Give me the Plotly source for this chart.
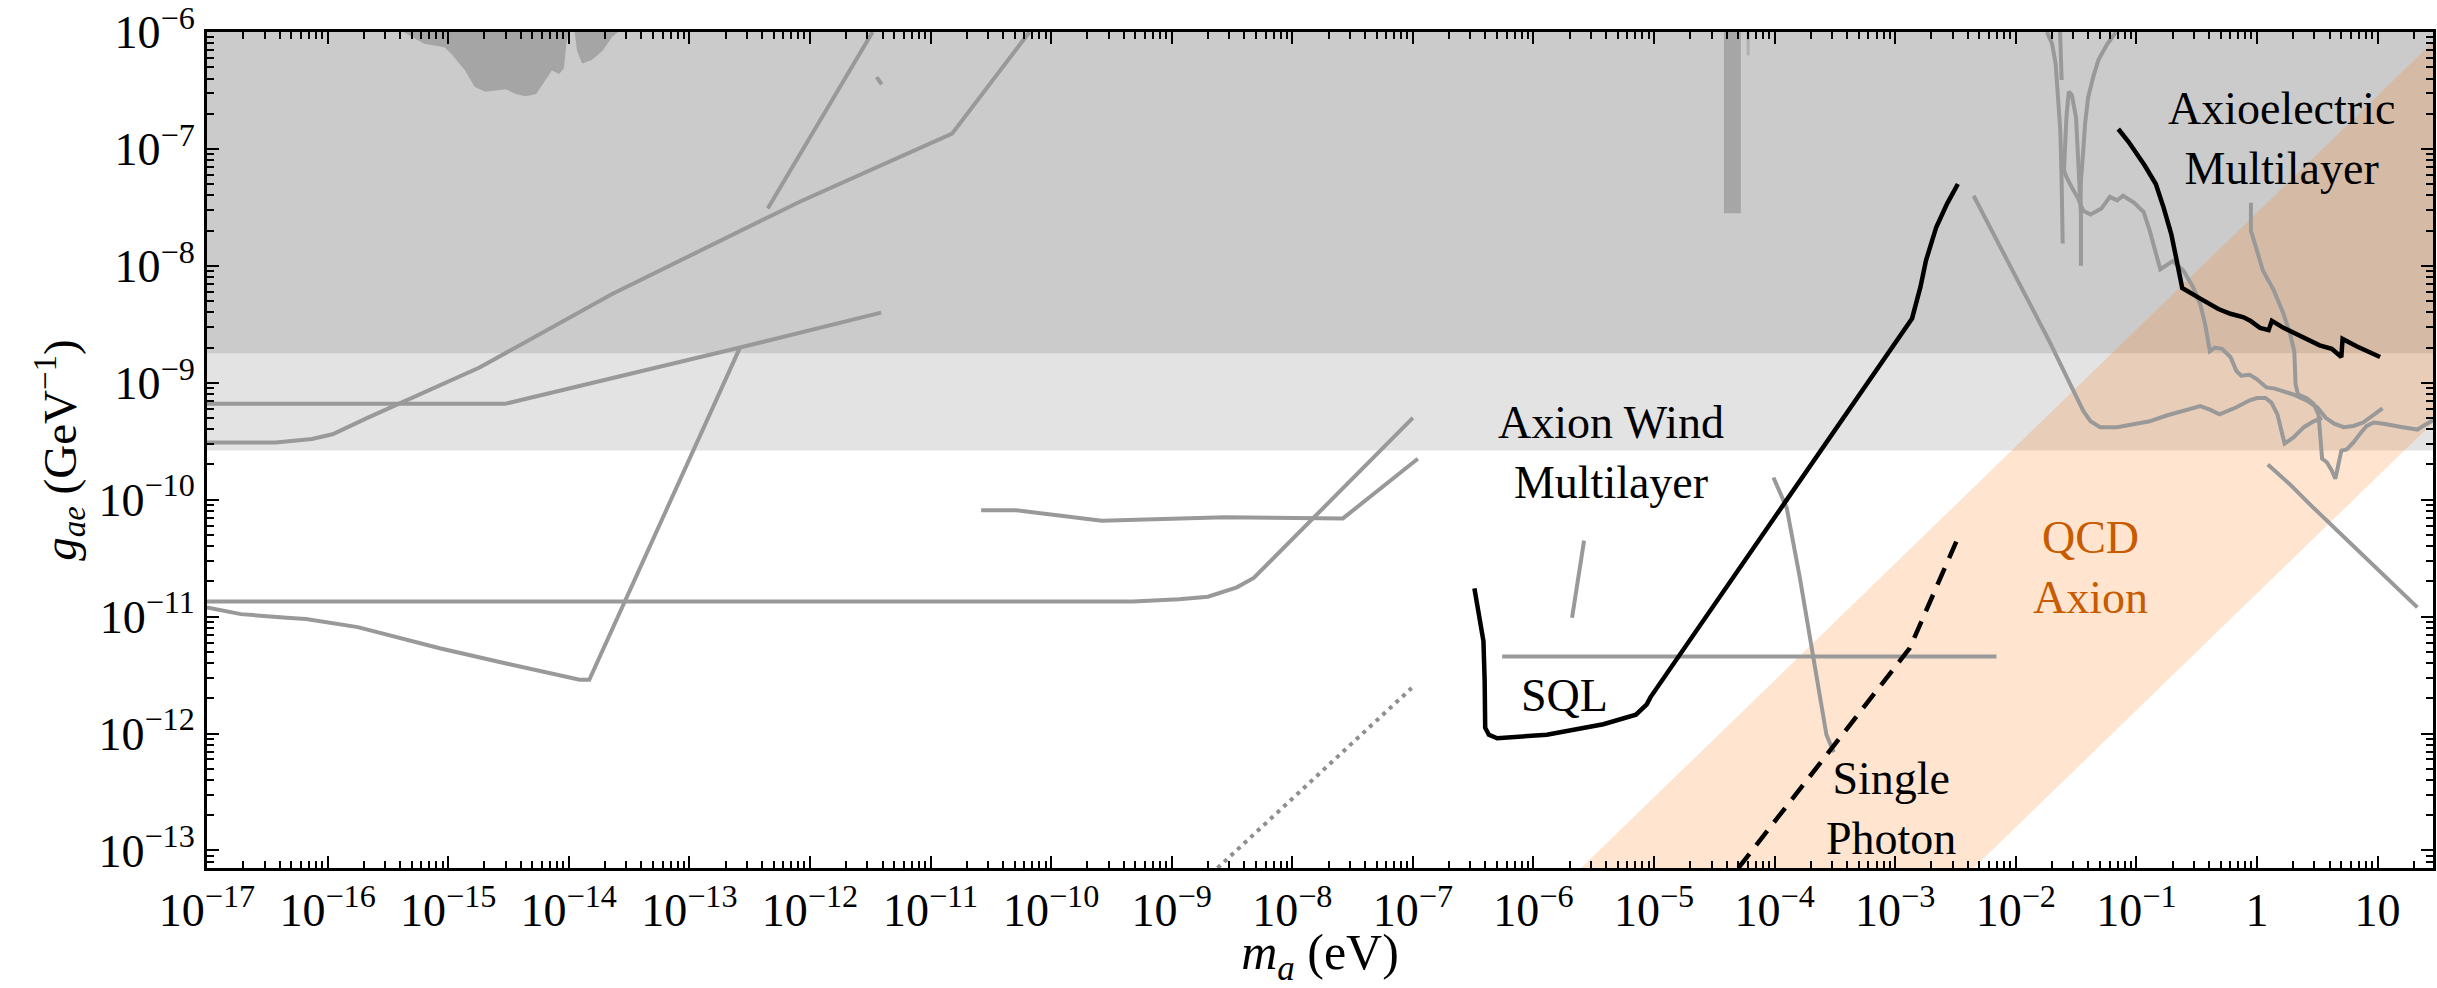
import math
import plotly.graph_objects as go

# ---------------- axes ----------------
x_tick_vals = [1e-17, 1e-16, 1e-15, 1e-14, 1e-13, 1e-12, 1e-11, 1e-10, 1e-9,
               1e-8, 1e-7, 1e-6, 1e-5, 1e-4, 1e-3, 1e-2, 1e-1, 1, 10]
x_tick_text = ["10<sup>−17</sup>", "10<sup>−16</sup>", "10<sup>−15</sup>", "10<sup>−14</sup>",
               "10<sup>−13</sup>", "10<sup>−12</sup>", "10<sup>−11</sup>", "10<sup>−10</sup>",
               "10<sup>−9</sup>", "10<sup>−8</sup>", "10<sup>−7</sup>", "10<sup>−6</sup>",
               "10<sup>−5</sup>", "10<sup>−4</sup>", "10<sup>−3</sup>", "10<sup>−2</sup>",
               "10<sup>−1</sup>", "1", "10"]
y_tick_vals = [1e-13, 1e-12, 1e-11, 1e-10, 1e-9, 1e-8, 1e-7, 1e-6]
y_tick_text = ["10<sup>−13</sup>", "10<sup>−12</sup>", "10<sup>−11</sup>", "10<sup>−10</sup>",
               "10<sup>−9</sup>", "10<sup>−8</sup>", "10<sup>−7</sup>", "10<sup>−6</sup>"]
x_range_log = [-17, 1.46]
y_range_log = [-13.15, -6]
x_title = "<i>m</i><sub><i>a</i></sub> (eV)"
y_title = "<i>g</i><sub><i>ae</i></sub> (GeV<sup>−1</sup>)"

# ---------------- shaded regions ----------------
band_x = [1e-18, 1e3, 1e3, 1e-18]
light_band_y = [2.63e-10, 2.63e-10, 1.78e-9, 1.78e-9]
dark_band_y = [1.78e-9, 1.78e-9, 1e-5, 1e-5]

blob1_m = [4.27e-16, 6.31e-16, 9.33e-16, 1.07e-15, 1.38e-15, 1.66e-15, 2.04e-15, 3.02e-15,
           3.63e-15, 4.37e-15, 5.37e-15, 6.46e-15, 7.24e-15, 8.32e-15, 9.12e-15, 9.55e-15, 1.0e-14]
blob1_g = [1e-6, 7.94e-7, 7.41e-7, 6.46e-7, 4.68e-7, 3.39e-7, 3.09e-7, 3.24e-7,
           2.95e-7, 2.82e-7, 2.95e-7, 3.89e-7, 4.68e-7, 4.37e-7, 4.90e-7, 7.94e-7, 1e-6]
blob2_m = [1.12e-14, 1.17e-14, 1.29e-14, 1.55e-14, 1.91e-14, 2.29e-14, 2.57e-14]
blob2_g = [1e-6, 6.92e-7, 5.37e-7, 5.75e-7, 6.92e-7, 9.12e-7, 1e-6]

bar_m = [3.80e-5, 5.25e-5, 5.25e-5, 3.80e-5]
bar_g = [2.82e-8, 2.82e-8, 1e-6, 1e-6]
thin_m = [6.03e-5, 6.03e-5]
thin_g = [1e-6, 6.31e-7]

qcd_m = [1e-7, 1e2]
qcd_upper = [2.85e-15, 2.85e-6]
qcd_lower = [1.58e-18, 1.58e-9]

# ---------------- grey limit curves ----------------
lineA_m = [1e-17, 2.95e-15, 2.63e-13, 8.32e-13, 2.51e-12, 3.89e-12]
lineA_g = [6.6e-10, 6.6e-10, 2.0e-9, 2.69e-9, 3.55e-9, 3.98e-9]

lineB_m = [1e-17, 3.72e-17, 7.41e-17, 1.10e-16, 2.14e-16, 1.82e-15, 2.29e-14, 2.63e-13,
           8.32e-13, 1.51e-11, 6.61e-11]
lineB_g = [3.09e-10, 3.09e-10, 3.31e-10, 3.63e-10, 5.01e-10, 1.35e-9, 5.75e-9, 2.0e-8,
           3.55e-8, 1.35e-7, 1e-6]

lineC_m = [4.47e-13, 3.31e-12]
lineC_g = [3.09e-8, 1e-6]

tick_seg_m = [3.57e-12, 3.94e-12]
tick_seg_g = [4.12e-7, 3.56e-7]

lineD_m = [1e-17, 1.91e-17, 4.57e-17, 6.61e-17, 1.78e-16, 8.51e-16, 3.31e-15, 1.23e-14,
           1.48e-14, 2.63e-13]
lineD_g = [1.20e-11, 1.05e-11, 9.77e-12, 9.55e-12, 8.13e-12, 5.37e-12, 3.89e-12, 2.88e-12,
           2.88e-12, 2.0e-9]

lineE_m = [1e-17, 4.79e-10, 1.15e-9, 2.0e-9, 3.47e-9, 4.79e-9, 1.0e-7]
lineE_g = [1.35e-11, 1.35e-11, 1.41e-11, 1.48e-11, 1.78e-11, 2.14e-11, 5.01e-10]

lineF_m = [2.63e-11, 5.13e-11, 2.63e-10, 2.75e-9, 2.63e-8, 1.10e-7]
lineF_g = [8.13e-11, 8.13e-11, 6.61e-11, 7.08e-11, 6.92e-11, 2.24e-10]

dotted_m = [2.40e-9, 9.77e-8]
dotted_g = [7.08e-14, 2.45e-12]

lineH_m = [2.63e-6, 2.34e-6, 2.09e-6]
lineH_g = [4.47e-11, 2.04e-11, 9.77e-12]

lineI_m = [5.50e-7, 6.92e-3]
lineI_g = [4.57e-12, 4.57e-12]

lineJ_m = [9.77e-5, 1.26e-4, 1.62e-4, 2.0e-4, 2.34e-4, 2.69e-4, 3.09e-4]
lineJ_g = [1.55e-10, 8.51e-11, 2.14e-11, 6.17e-12, 2.19e-12, 9.77e-13, 6.92e-13]

lineK_m = [4.47e-3, 1.91e-2, 2.82e-2, 3.63e-2, 4.17e-2, 5.01e-2, 6.92e-2, 0.1, 0.129, 0.178,
           0.245, 0.339, 0.407, 0.490, 0.676, 0.871, 1.0, 1.175, 1.318, 1.479, 1.622, 1.698,
           1.995, 2.455, 2.951, 3.467]
lineK_g = [3.98e-8, 2.24e-9, 9.77e-10, 5.75e-10, 4.68e-10, 4.17e-10, 4.17e-10, 4.47e-10,
           4.68e-10, 5.25e-10, 5.75e-10, 6.31e-10, 5.89e-10, 5.37e-10, 6.17e-10, 7.08e-10,
           7.41e-10, 7.41e-10, 6.76e-10, 5.37e-10, 3.63e-10, 3.02e-10, 3.39e-10, 4.17e-10,
           4.68e-10, 5.01e-10]

lineP_m = [1.81e-2, 2.0e-2, 2.14e-2, 2.24e-2, 2.34e-2, 2.40e-2, 2.45e-2]
lineP_g = [1e-6, 7.94e-7, 5.37e-7, 2.75e-7, 1.45e-7, 5.37e-8, 1.55e-8]
lineP2_m = [2.33e-2, 2.40e-2]
lineP2_g = [1e-6, 3.89e-7]

lineR_m = [2.51e-2, 2.63e-2, 2.75e-2, 2.92e-2, 3.16e-2, 3.31e-2, 3.47e-2, 3.47e-2]
lineR_g = [6.61e-8, 1.86e-7, 3.09e-7, 2.88e-7, 1.86e-7, 7.41e-8, 2.75e-8, 1.0e-8]

lineM_m = [6.76e-2, 5.69e-2, 4.84e-2, 4.37e-2, 3.98e-2, 3.76e-2, 3.63e-2, 3.47e-2, 3.44e-2]
lineM_g = [1e-6, 7.76e-7, 5.75e-7, 4.07e-7, 2.75e-7, 1.66e-7, 9.77e-8, 5.37e-8, 3.39e-8]

lineQ_m = [2.40e-2, 2.63e-2, 2.92e-2, 3.31e-2, 3.63e-2, 4.17e-2, 5.13e-2, 6.03e-2, 6.92e-2,
           7.76e-2, 9.55e-2, 0.115, 0.129, 0.158, 0.200, 0.245, 0.295, 0.339, 0.372, 0.407,
           0.447, 0.513, 0.603, 0.676, 0.741, 0.871, 1.0, 1.20, 1.41, 2.0, 2.57, 3.16, 3.72,
           4.37, 5.25, 6.31, 7.59, 9.33, 11.0]
lineQ_g = [7.41e-8, 5.75e-8, 4.68e-8, 3.72e-8, 2.95e-8, 2.75e-8, 3.09e-8, 3.89e-8, 3.63e-8,
           3.98e-8, 3.47e-8, 2.88e-8, 2.0e-8, 9.33e-9, 1.10e-8, 9.12e-9, 6.61e-9, 4.68e-9,
           3.16e-9, 1.86e-9, 2.0e-9, 1.95e-9, 1.66e-9, 1.26e-9, 1.15e-9, 1.17e-9, 1.07e-9,
           9.12e-10, 8.91e-10, 7.94e-10, 7.08e-10, 6.17e-10, 5.01e-10, 4.47e-10, 4.17e-10,
           4.27e-10, 4.57e-10, 5.37e-10, 6.03e-10]

lineN_m = [0.891, 0.891, 1.0, 1.12, 1.38, 1.66, 1.88, 2.04, 2.09, 2.19, 2.57, 2.95, 3.24, 3.31,
           3.47, 3.80, 4.17, 4.47, 4.79, 5.01, 5.56, 6.31, 7.24, 8.13, 9.33, 11.2, 16.2, 21.4,
           25.7, 30.2]
lineN_g = [3.47e-8, 2.0e-8, 1.35e-8, 9.12e-9, 6.17e-9, 3.89e-9, 2.63e-9, 1.86e-9, 9.77e-10,
           7.94e-10, 7.41e-10, 6.61e-10, 5.37e-10, 3.89e-10, 2.24e-10, 2.09e-10, 1.78e-10,
           1.51e-10, 2.14e-10, 2.63e-10, 2.69e-10, 3.09e-10, 3.72e-10, 4.27e-10, 4.57e-10,
           4.47e-10, 4.17e-10, 3.98e-10, 4.47e-10, 4.90e-10]

lineO_m = [1.23, 1.88, 2.75, 4.07, 21.4]
lineO_g = [2.0e-10, 1.35e-10, 9.12e-11, 6.17e-11, 1.20e-11]

# ---------------- projected sensitivities (black) ----------------
sql_m = [3.24e-7, 3.55e-7, 3.85e-7, 3.94e-7, 3.98e-7, 4.27e-7, 5.01e-7, 1.29e-6, 3.80e-6,
         7.08e-6, 8.71e-6, 9.33e-6, 1.38e-3, 1.62e-3, 1.80e-3, 2.19e-3, 2.69e-3, 3.31e-3]
sql_g = [1.74e-11, 1.05e-11, 6.17e-12, 2.82e-12, 1.12e-12, 9.77e-13, 9.12e-13, 9.77e-13,
         1.20e-12, 1.45e-12, 1.78e-12, 2.04e-12, 3.55e-9, 6.61e-9, 1.11e-8, 2.14e-8, 3.39e-8,
         5.01e-8]

axioel_m = [7.08e-2, 8.61e-2, 0.117, 0.145, 0.168, 0.195, 0.216, 0.240, 0.339, 0.479, 0.603,
            0.776, 0.879, 1.06, 1.25, 1.33, 1.66, 2.29, 3.31, 4.17, 5.01, 5.13, 6.76, 10.5]
axioel_g = [1.48e-7, 1.15e-7, 7.24e-8, 5.01e-8, 3.16e-8, 1.86e-8, 1.11e-8, 6.46e-9, 5.25e-9,
            4.27e-9, 3.89e-9, 3.63e-9, 3.39e-9, 2.95e-9, 2.82e-9, 3.39e-9, 2.95e-9, 2.51e-9,
            2.09e-9, 1.95e-9, 1.66e-9, 2.37e-9, 2.04e-9, 1.66e-9]

single_photon_m = [5.01e-5, 1.32e-3, 3.24e-3]
single_photon_g = [7.08e-14, 5.37e-12, 4.47e-11]

# ---------------- labels ----------------
labels = [
    ("Axion Wind<br>Multilayer", 4.41e-6, 2.54e-10, "black"),
    ("SQL", 1.80e-6, 2.11e-12, "black"),
    ("Single<br>Photon", 9.27e-4, 2.29e-13, "black"),
    ("QCD<br>Axion", 4.14e-2, 2.64e-11, "#c85a00"),
    ("Axioelectric<br>Multilayer", 1.60, 1.24e-7, "black"),
]

GREY = "#999999"
FONT = "Liberation Serif"

fig = go.Figure()


def poly(xs, ys, color):
    fig.add_trace(go.Scatter(x=xs, y=ys, mode="lines", fill="toself", fillcolor=color,
                             line=dict(width=0, color=color), hoverinfo="skip", showlegend=False))


def curve(xs, ys, color=GREY, width=4, dash="solid"):
    fig.add_trace(go.Scatter(x=xs, y=ys, mode="lines", line=dict(color=color, width=width, dash=dash),
                             hoverinfo="skip", showlegend=False))


poly(band_x, light_band_y, "#e3e3e3")
poly(band_x, dark_band_y, "#cbcbcb")
poly(blob1_m, blob1_g, "#a5a5a5")
poly(blob2_m, blob2_g, "#a5a5a5")
poly(bar_m, bar_g, "#a6a6a6")
curve(thin_m, thin_g, color="#b0b0b0", width=3)
poly(qcd_m + qcd_m[::-1], qcd_upper + qcd_lower[::-1], "rgba(255,127,14,0.2)")

for xs, ys in [(lineA_m, lineA_g), (lineB_m, lineB_g), (lineC_m, lineC_g),
               (tick_seg_m, tick_seg_g), (lineD_m, lineD_g), (lineE_m, lineE_g),
               (lineF_m, lineF_g), (lineH_m, lineH_g), (lineI_m, lineI_g),
               (lineJ_m, lineJ_g), (lineK_m, lineK_g), (lineP_m, lineP_g),
               (lineP2_m, lineP2_g), (lineR_m, lineR_g), (lineM_m, lineM_g),
               (lineQ_m, lineQ_g), (lineN_m, lineN_g), (lineO_m, lineO_g)]:
    curve(xs, ys)
curve(dotted_m, dotted_g, color="#8f8f8f", width=4, dash="4px,5px")

curve(sql_m, sql_g, color="black", width=4.5)
curve(axioel_m, axioel_g, color="black", width=4.5)
curve(single_photon_m, single_photon_g, color="black", width=4.5, dash="18px,11px")

for text, xm, yg, col in labels:
    fig.add_annotation(x=math.log10(xm), y=math.log10(yg), xref="x", yref="y", text=text,
                       showarrow=False, xanchor="center", yanchor="middle", align="center",
                       font=dict(family=FONT, size=46, color=col))

axis_common = dict(type="log", showgrid=False, zeroline=False, showline=True, linecolor="black",
                   linewidth=3, mirror="allticks", ticks="inside", ticklen=12, tickwidth=2,
                   tickcolor="black", tickmode="array", ticklabeloverflow="allow",
                   tickfont=dict(family=FONT, size=46, color="black"),
                   minor=dict(ticks="inside", ticklen=7, tickwidth=1.5, tickcolor="black",
                              dtick="D1", showgrid=False))

fig.update_xaxes(range=x_range_log, tickvals=x_tick_vals, ticktext=x_tick_text,
                 title=dict(text=x_title, standoff=8, font=dict(family=FONT, size=50, color="black")),
                 **axis_common)
fig.update_yaxes(range=y_range_log, tickvals=y_tick_vals, ticktext=y_tick_text,
                 title=dict(text=y_title, standoff=8, font=dict(family=FONT, size=47, color="black")),
                 **axis_common)

fig.update_layout(width=2437, height=988, autosize=False,
                  margin=dict(l=207, r=4, t=32, b=120, autoexpand=False),
                  paper_bgcolor="white", plot_bgcolor="white", showlegend=False)

fig.write_html("out.html")
